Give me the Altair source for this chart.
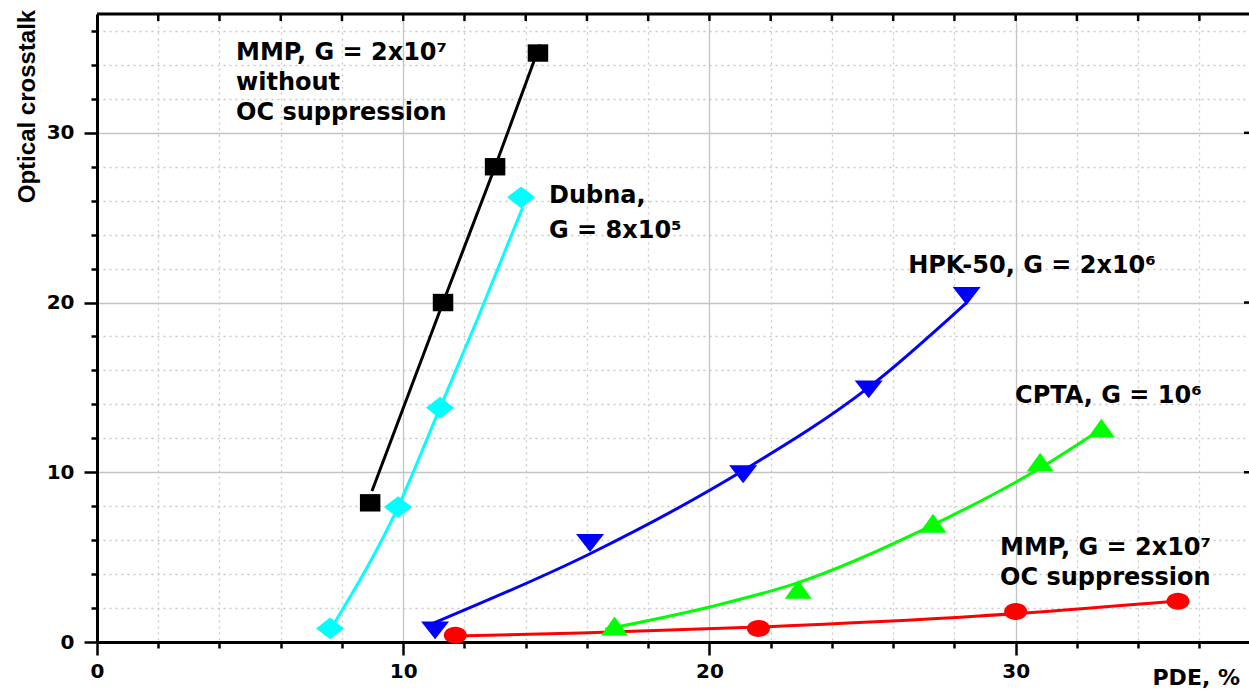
import altair as alt
import pandas as pd

# ---------------- data ----------------
# MMP, G = 2x10^7, without OC suppression (black squares)
mmp_pde = [8.92, 11.3, 13.0, 14.4]
mmp_oc = [8.2, 20.0, 28.0, 34.7]
mmp_fit_pde = [8.98, 11.3, 13.0, 14.47]
mmp_fit_oc = [8.9, 20.0, 28.0, 35.2]

# Dubna, G = 8x10^5 (cyan diamonds)
dubna_pde = [7.61, 9.83, 11.2, 13.85]
dubna_oc = [0.8, 7.95, 13.8, 26.2]
dubna_fit_pde = [7.75, 9.83, 11.2, 12.41, 13.9]
dubna_fit_oc = [1.1, 7.95, 13.8, 18.97, 25.6]

# HPK-50, G = 2x10^6 (blue down triangles)
hpk_pde = [11.04, 16.1, 21.1, 25.2, 28.4]
hpk_oc = [0.7, 5.85, 9.9, 14.9, 20.4]
hpk_fit_pde = [10.97, 16.1, 21.1, 25.2, 28.4]
hpk_fit_oc = [1.1, 5.2, 10.1, 15.0, 20.0]

# CPTA, G = 10^6 (green up triangles)
cpta_pde = [16.9, 22.9, 27.3, 30.8, 32.8]
cpta_oc = [0.94, 3.1, 7.0, 10.6, 12.6]
cpta_fit_pde = [16.6, 20.0, 22.9, 27.3, 30.8, 32.5]
cpta_fit_oc = [0.75, 2.06, 3.5, 6.9, 10.25, 12.2]

# MMP, G = 2x10^7, OC suppression (red circles)
mmps_pde = [11.7, 21.6, 30.0, 35.3]
mmps_oc = [0.4, 0.8, 1.8, 2.4]
mmps_fit_pde = [11.7, 15.8, 21.6, 28.8, 35.3]
mmps_fit_oc = [0.35, 0.53, 0.88, 1.53, 2.42]

# annotations
label_text = ["MMP, G = 2x10\u2077", "without", "OC suppression",
              "Dubna,", "G = 8x10\u2075",
              "HPK-50, G = 2x10\u2076",
              "CPTA, G = 10\u2076",
              "MMP, G = 2x10\u2077", "OC suppression"]
label_pde = [4.54, 4.54, 4.54, 14.76, 14.76, 26.49, 29.98, 29.49, 29.49]
label_oc = [34.3, 32.53, 30.76, 25.87, 23.8, 21.74, 14.08, 5.13, 3.36]

tick_values = list(range(0, 37, 2))
major_values = [10, 20, 30]

# ---------------- chart ----------------
W, H = 1152, 628
XDOM = [0, 37.62]
YDOM = [0, 37]

major_test = "datum.value % 10 === 0"

def make_axis(title, **kw):
    return alt.Axis(
        values=tick_values,
        tickCount=60,
        format="d",
        labelExpr=f"{major_test} ? datum.label : ''",
        tickSize={"condition": {"test": major_test, "value": 13}, "value": 6},
        tickWidth=2.5,
        tickColor="black",
        domainColor="black",
        domainWidth=3,
        grid=True,
        gridColor={"condition": {"test": major_test, "value": "#c4c4c4"}, "value": "#c8c8c8"},
        gridDash={"condition": {"test": major_test, "value": []}, "value": [2, 4]},
        gridWidth=1.3,
        labelFont="DejaVu Sans",
        labelFontSize=20,
        labelFontWeight="bold",
        labelColor="black",
        labelFlush=False,
        labelOverlap=False,
        title=title,
        titleColor="black",
        **kw,
    )

xscale = alt.Scale(domain=XDOM, nice=False, zero=False)
yscale = alt.Scale(domain=YDOM, nice=False, zero=False)

xaxis = make_axis("PDE, %", labelPadding=6, titleFont="DejaVu Sans", titleFontSize=22,
                  titleFontWeight="bold", titleX=1055, titleY=42, titleAlign="left",
                  titleBaseline="alphabetic", titleAngle=0)
yaxis = make_axis("Optical crosstalk", labelPadding=10, titleFont="Liberation Sans",
                  titleFontSize=24, titleFontWeight="bold", titleX=-63, titleY=92,
                  titleAlign="center", titleBaseline="alphabetic", titleAngle=270)


def series_df(xs, ys):
    return pd.DataFrame({"pde": xs, "oc": ys})


def fit_line(xs, ys, color):
    return alt.Chart(series_df(xs, ys)).mark_line(
        color=color, strokeWidth=3, interpolate="monotone"
    ).encode(
        x=alt.X("pde:Q", scale=xscale, axis=xaxis),
        y=alt.Y("oc:Q", scale=yscale, axis=yaxis),
    )


def markers(xs, ys, color, shape, size):
    return alt.Chart(series_df(xs, ys)).mark_point(
        shape=shape, size=size, filled=True, color=color, opacity=1, strokeWidth=0
    ).encode(
        x=alt.X("pde:Q", scale=xscale),
        y=alt.Y("oc:Q", scale=yscale),
    )


SQUARE = "M-1,-0.85L1,-0.85L1,0.85L-1,0.85Z"
DIAMOND = "M-1,0L0,-0.78L1,0L0,0.78Z"
TRI_DOWN = "M-1,-0.62L1,-0.62L0,0.66Z"
TRI_UP = "M-1,0.7L1,0.7L0,-0.7Z"
ELLIPSE = "M-1,0A1,0.74 0 1,0 1,0A1,0.74 0 1,0 -1,0Z"

lines = [
    fit_line(mmp_fit_pde, mmp_fit_oc, "#000000"),
    fit_line(dubna_fit_pde, dubna_fit_oc, "#00FFFF"),
    fit_line(hpk_fit_pde, hpk_fit_oc, "#0000FF"),
    fit_line(cpta_fit_pde, cpta_fit_oc, "#00FF00"),
    fit_line(mmps_fit_pde, mmps_fit_oc, "#FF0000"),
]
points = [
    markers(mmp_pde, mmp_oc, "#000000", SQUARE, 420),
    markers(dubna_pde, dubna_oc, "#00FFFF", DIAMOND, 784),
    markers(hpk_pde, hpk_oc, "#0000FF", TRI_DOWN, 784),
    markers(cpta_pde, cpta_oc, "#00FF00", TRI_UP, 729),
    markers(mmps_pde, mmps_oc, "#FF0000", ELLIPSE, 529),
]

labels = alt.Chart(pd.DataFrame({"t": label_text, "pde": label_pde, "oc": label_oc})).mark_text(
    align="left", baseline="alphabetic", font="DejaVu Sans", fontSize=24,
    fontWeight="bold", color="black"
).encode(
    x=alt.X("pde:Q", scale=xscale),
    y=alt.Y("oc:Q", scale=yscale),
    text="t:N",
)

# top frame with inward ticks, and right-side inward ticks
top_frame = alt.Chart(pd.DataFrame({"v": [0]})).mark_rule(color="black", strokeWidth=3).encode(
    x=alt.value(0), x2=alt.value(W), y=alt.value(0)
)
top_ticks = alt.Chart(pd.DataFrame({"v": tick_values[1:]})).mark_rule(color="black", strokeWidth=2.5).encode(
    x=alt.X("v:Q", scale=xscale), y=alt.value(0), y2=alt.value(7)
)
right_ticks = alt.Chart(pd.DataFrame({"v": major_values})).mark_rule(color="black", strokeWidth=2.5).encode(
    y=alt.Y("v:Q", scale=yscale), x=alt.value(W - 5), x2=alt.value(W)
)

chart = alt.layer(
    *lines, *points, labels, top_frame, top_ticks, right_ticks
).properties(
    width=W, height=H,
    autosize=alt.AutoSizeParams(type="none"),
    padding={"left": 97, "top": 14, "right": 0, "bottom": 48},
).configure_view(stroke=None).configure(background="white").configure_axis(
    labelOverlap=False, labelBound=False
)

chart.save("out.html", embed_options={"renderer": "svg", "actions": False})
